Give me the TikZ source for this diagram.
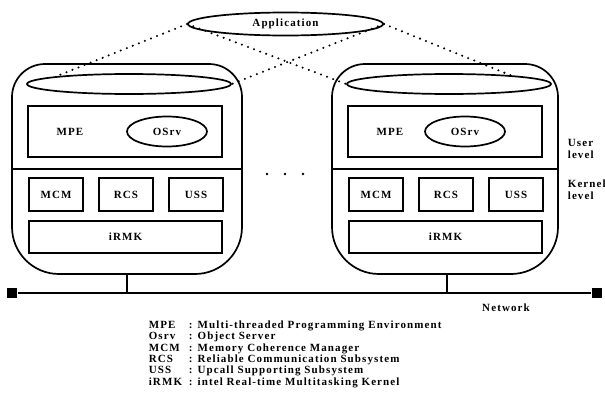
\documentclass[tikz,border=0pt]{standalone}
\usepackage{fontspec}
\setmainfont{Liberation Serif}[LetterSpace=10]
\usepackage{tikz}
\usetikzlibrary{calc, positioning, shapes.geometric}
\newcommand{\lbl}{\fontsize{11}{12}\selectfont\bfseries}
\tikzset{
  box/.style={draw, line width=1.7pt, inner sep=0pt, font=\lbl},
  oval/.style={draw, ellipse, line width=1.7pt, inner sep=0pt, font=\lbl},
  dotline/.style={line width=2.3pt, line cap=round, dash pattern=on 0pt off 6.5pt},
  netend/.style={fill, minimum size=10pt, inner sep=0pt},
  side/.style={font=\lbl, align=left, anchor=west, inner sep=0pt}
}

\begin{document}
\begin{tikzpicture}[x=1pt, y=-1pt, line width=1.7pt]
  \useasboundingbox (0,0) rectangle (605,399);
  \node[oval, minimum width=195pt, minimum height=23pt] (app) at (285.5,24) {Application};
  \node[netend] (netl) at (12,293) {};
  \node[netend] (netr) at (597,293) {};
  \draw (netl) -- (netr);
  \foreach \n/\x/\w/\osx in {1/12/230/155, 2/332/226/133} {
    \draw (\x,170) [rounded corners=33pt] -- (\x,64) -- (\x+\w,64) -- (\x+\w,170)
      [rounded corners=47pt] -- (\x+\w,274) -- (\x,274) -- cycle;
    \draw (\x,169) -- (\x+\w,169);
    \node[oval, minimum width=204pt, minimum height=20pt] (lid\n) at (\x+117,84) {};
    \node[box, minimum width=194pt, minimum height=51pt] (mpebox\n) at (\x+113,131.5) {};
    \node[font=\lbl] (mpe\n) at (\x+58,132) {MPE};
    \node[oval, minimum width=80pt, minimum height=30pt] (osrv\n) at (\x+\osx,131.5) {OSrv};
    \node[box, minimum width=54pt, minimum height=33pt] (mcm\n) at (\x+44,194.5) {MCM};
    \node[box, minimum width=54pt, minimum height=33pt] (rcs\n) at (\x+114,194.5) {RCS};
    \node[box, minimum width=54pt, minimum height=33pt] (uss\n) at (\x+184,194.5) {USS};
    \node[box, minimum width=193pt, minimum height=32pt] (irmk\n) at (\x+113.5,237) {iRMK};
    \coordinate (base\n) at (\x+115,274);
    \draw (base\n) -- (base\n |- netl);
  }
  \draw[dotline] (app.west) -- (lid1.174);
  \draw[dotline] (app.west) -- (lid2.west);
  \draw[dotline] (app.east) -- (lid1.east);
  \draw[dotline] (app.east) -- (lid2.8);
  \foreach \d in {267,285,303}
    \fill (\d,174) circle (1.4pt);
  \node[side] (user) at (567,149) {User\\level};
  \node[side] (kern) at (567,190) {Kernel\\level};
  \node[font=\lbl] (net) at (506,308) {Network};
  \node[anchor=base west, inner sep=0pt, font=\lbl] (legend) at (148,328.3) {%
    \fontsize{11}{11.4}\selectfont
    \begin{tabular}[t]{@{}p{40pt}@{}l@{}}
      MPE & : Multi-threaded Programming Environment\\
      Osrv & : Object Server\\
      MCM & : Memory Coherence Manager\\
      RCS & : Reliable Communication Subsystem\\
      USS & : Upcall Supporting Subsystem\\
      iRMK & : intel Real-time Multitasking Kernel
    \end{tabular}};
\end{tikzpicture}
\end{document}
